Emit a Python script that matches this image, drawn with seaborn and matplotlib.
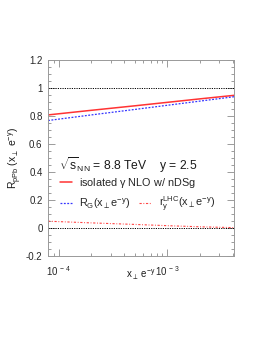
import numpy as np
import pandas as pd
import seaborn as sns
import matplotlib.pyplot as plt
from matplotlib.lines import Line2D
from matplotlib.ticker import MultipleLocator, LogLocator, NullFormatter

# values
x_vals = [8e-5, 2e-4, 5e-4, 1e-3, 2e-3, 4.1e-3]
r_ppb_nlo = [0.810, 0.843, 0.875, 0.900, 0.925, 0.950]
r_g = [0.770, 0.810, 0.849, 0.879, 0.909, 0.940]
r_y_lhc = [0.050, 0.038, 0.027, 0.018, 0.010, 0.004]
ref_levels = [1.0, 0.0]

sns.set_style('ticks')
plt.rcParams['font.family'] = ['Liberation Sans', 'DejaVu Sans']
plt.rcParams['mathtext.fontset'] = 'custom'
plt.rcParams['mathtext.rm'] = 'Liberation Sans'
plt.rcParams['mathtext.it'] = 'Liberation Sans:italic'

df = pd.DataFrame({'x': x_vals, 'nlo': r_ppb_nlo, 'rg': r_g, 'ry': r_y_lhc})

fig = plt.figure(figsize=(2.70, 3.49), dpi=100)
ax = fig.add_axes([0.178, 0.266, 0.689, 0.561])

for lev in ref_levels:
    ax.axhline(lev, color='black', ls=(0, (1.2, 1.2)), lw=0.7)

dashdot = (0, (2, 1.5, 0.8, 1.5))
sns.lineplot(data=df, x='x', y='nlo', ax=ax, color='#ff3333', lw=1.1)
sns.lineplot(data=df, x='x', y='rg', ax=ax, color='#3333ff', lw=0.9, ls=(0, (1.5, 1.2)))
sns.lineplot(data=df, x='x', y='ry', ax=ax, color='#ff4444', lw=0.8, ls=dashdot)

ax.set_xscale('log')
ax.set_xlim(8e-5, 4.1e-3)
ax.set_ylim(-0.2, 1.2)
ax.yaxis.set_major_locator(MultipleLocator(0.2))
ax.yaxis.set_minor_locator(MultipleLocator(0.05))
ax.xaxis.set_major_locator(LogLocator(base=10))
ax.xaxis.set_minor_locator(LogLocator(base=10, subs=np.arange(2, 10)))
ax.xaxis.set_minor_formatter(NullFormatter())
ax.yaxis.set_major_formatter(plt.FuncFormatter(
    lambda v, p: '0' if abs(v) < 1e-9 else ('1' if abs(v - 1) < 1e-9 else f'{v:.1f}')))
ax.xaxis.set_major_formatter(plt.FuncFormatter(
    lambda v, p: r'$\mathregular{10^{\ %d}}$' % round(np.log10(v))))

ax.tick_params(which='both', direction='in', top=True, right=True, colors='0.55',
               labelcolor='0.15', labelsize=7, width=0.6)
ax.tick_params(which='major', length=5, pad=4)
ax.tick_params(which='minor', length=2.5)
ax.tick_params(axis='x', pad=6)
for s in ax.spines.values():
    s.set_color('0.6')
    s.set_linewidth(0.7)

ax.set_xlabel('')
ax.set_ylabel(r'R$_{\mathregular{pPb}}$ (x$_\perp$ e$^{\mathregular{-y}}$)', fontsize=7.5, labelpad=2, color='0.1')
ax.text(0.5, -0.06, r'x$_\perp$ e$^{\mathregular{-y}}$', transform=ax.transAxes,
        ha='center', va='top', fontsize=7, color='0.1')

ax.text(0.06, 0.466, r'$\mathregular{\sqrt{s}_{NN}}$ = 8.8 TeV    y = 2.5', transform=ax.transAxes,
        fontsize=8.7, color='0.1', va='center')

h1 = [Line2D([], [], color='#ff3333', lw=1.1)]
leg1 = ax.legend(h1, [r'isolated $\mathregular{\gamma}$ NLO w/ nDSg'], loc='center left',
                 bbox_to_anchor=(0.04, 0.374), frameon=False, fontsize=7.8,
                 handlelength=1.1, handletextpad=0.7, borderaxespad=0)
ax.add_artist(leg1)
h2 = [Line2D([], [], color='#3333ff', lw=0.9, ls=(0, (1.5, 1.2))),
      Line2D([], [], color='#ff4444', lw=0.8, ls=dashdot)]
ax.legend(h2, [r'R$_\mathregular{G}$(x$_\perp$e$^{\mathregular{-y}}$)',
               r'r$_\mathregular{y}^\mathregular{LHC}$(x$_\perp$e$^{\mathregular{-y}}$)'],
          loc='center left', bbox_to_anchor=(0.04, 0.265), frameon=False, fontsize=7.8,
          ncol=2, handlelength=1.1, handletextpad=0.7, columnspacing=0.8, borderaxespad=0)

fig.savefig('out.png', dpi=100)
